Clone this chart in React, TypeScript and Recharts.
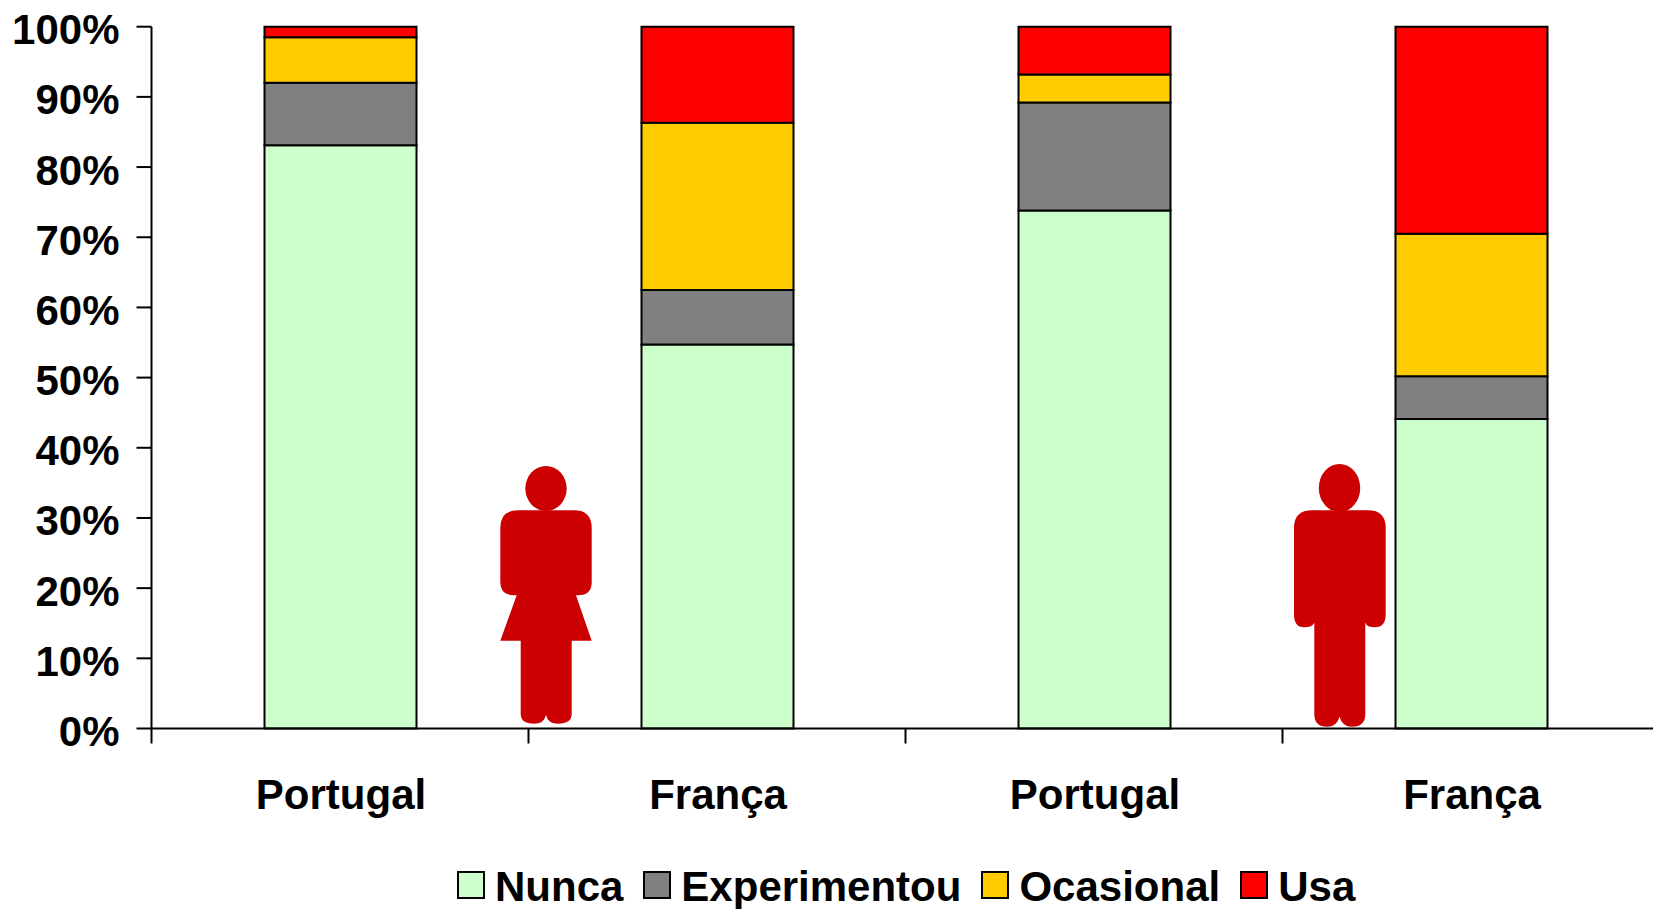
import React from 'react';
import { BarChart, Bar, XAxis, YAxis, Legend } from 'recharts';

const categories = ['Portugal', 'França', 'Portugal ', 'França '];
const nunca = [83.1, 54.7, 73.8, 44.1];
const experimentou = [8.9, 7.8, 15.4, 6.1];
const ocasional = [6.5, 23.8, 4.0, 20.3];
const usa = [1.5, 13.7, 6.8, 29.5];
const yTicks = [0, 10, 20, 30, 40, 50, 60, 70, 80, 90, 100];

const chartData = categories.map((name, i) => ({
  name,
  Nunca: nunca[i],
  Experimentou: experimentou[i],
  Ocasional: ocasional[i],
  Usa: usa[i],
}));

const FONT = '"Liberation Sans", Arial, sans-serif';
const BAND = 377;
const LINE = 2;

// ticks sit on the band edges, so the tick line is drawn half a band left of the label
function XTick({ x, y, payload }: any) {
  return (
    <g>
      <line x1={x - BAND / 2} x2={x - BAND / 2} y1={y - 8} y2={y + 7} stroke="#000" strokeWidth={LINE} />
      <text x={x + 1} y={y + 72} textAnchor="middle" fontFamily={FONT} fontWeight="bold" fontSize={42} fill="#000">
        {payload.value.trim()}
      </text>
    </g>
  );
}

function YTick({ x, y, payload }: any) {
  return (
    <text x={x - 15} y={y + 17.5} textAnchor="end" fontFamily={FONT} fontWeight="bold" fontSize={42} fill="#000">
      {payload.value}%
    </text>
  );
}

function LegendRow({ payload }: any) {
  return (
    <div style={{ display: 'flex', paddingLeft: 457, paddingTop: 3, alignItems: 'center', height: 46 }}>
      {(payload || []).map((item: any) => (
        <div key={item.value} style={{ display: 'flex', alignItems: 'center', marginRight: 20 }}>
          <span style={{ width: 24, height: 24, boxSizing: 'content-box', background: item.color, border: '2px solid #000', marginRight: 10 }} />
          <span style={{ fontFamily: FONT, fontWeight: 'bold', fontSize: 42, color: '#000', lineHeight: '40px', position: 'relative', top: 2 }}>{item.value}</span>
        </div>
      ))}
    </div>
  );
}

// the two pictograms next to the bars
function Figures() {
  const red = '#CC0000';
  return (
    <svg width={1653} height={909} style={{ position: 'absolute', left: 0, top: 0, pointerEvents: 'none' }}>
      <ellipse cx={546} cy={488.5} rx={20.7} ry={22.5} fill={red} />
      <path
        fill={red}
        d="M518 510.3 H574 Q591.7 510.3 591.7 528 V582 Q591.7 595.3 578 595.3 H576 L591.7 640.7 H571.7 V714 Q571.7 723.7 558 723.7 Q548 723.7 546 715 Q544 723.7 534 723.7 Q520.7 723.7 520.7 714 V640.7 H500.3 L516.7 595.3 H514 Q500.3 595.3 500.3 582 V528 Q500.3 510.3 518 510.3 Z"
      />
      <ellipse cx={1339.5} cy={488} rx={20.7} ry={24} fill={red} />
      <path
        fill={red}
        d="M1312 510.3 H1368 Q1385.7 510.3 1385.7 528 V614 Q1385.7 627.3 1375 627.3 Q1367 627.3 1365.3 622.7 V714 Q1365.3 726.7 1352 726.7 Q1342 726.7 1339.5 716.7 Q1337 726.7 1327 726.7 Q1314.3 726.7 1314.3 714 V622.7 Q1312.5 627.3 1304 627.3 Q1294 627.3 1294 614 V528 Q1294 510.3 1312 510.3 Z"
      />
    </svg>
  );
}

export default function App() {
  return (
    <div style={{ position: 'absolute', left: 0, top: 0, width: 1653, height: 909, overflow: 'hidden', background: '#fff' }}>
      <BarChart
        width={1659.5}
        height={909}
        data={chartData}
        margin={{ top: 26.7, right: 0, bottom: 0, left: 0 }}
      >
        <YAxis
          type="number"
          domain={[0, 100]}
          ticks={yTicks}
          interval={0}
          width={151.5}
          tickSize={15}
          tick={<YTick />}
          axisLine={{ stroke: '#000', strokeWidth: LINE }}
          tickLine={{ stroke: '#000', strokeWidth: LINE }}
        />
        <XAxis
          dataKey="name"
          height={130.5}
          interval={0}
          tick={<XTick />}
          tickLine={false}
          axisLine={{ stroke: '#000', strokeWidth: LINE }}
        />
        <Legend verticalAlign="bottom" height={50} itemSorter={null} content={<LegendRow />} wrapperStyle={{ left: 0, width: 1653, bottom: 0 }} />
        <Bar dataKey="Nunca" stackId="a" fill="#CCFFCC" stroke="#000" strokeWidth={LINE} barSize={152} isAnimationActive={false} />
        <Bar dataKey="Experimentou" stackId="a" fill="#808080" stroke="#000" strokeWidth={LINE} barSize={152} isAnimationActive={false} />
        <Bar dataKey="Ocasional" stackId="a" fill="#FFCC00" stroke="#000" strokeWidth={LINE} barSize={152} isAnimationActive={false} />
        <Bar dataKey="Usa" stackId="a" fill="#FF0000" stroke="#000" strokeWidth={LINE} barSize={152} isAnimationActive={false} />
      </BarChart>
      <Figures />
    </div>
  );
}
